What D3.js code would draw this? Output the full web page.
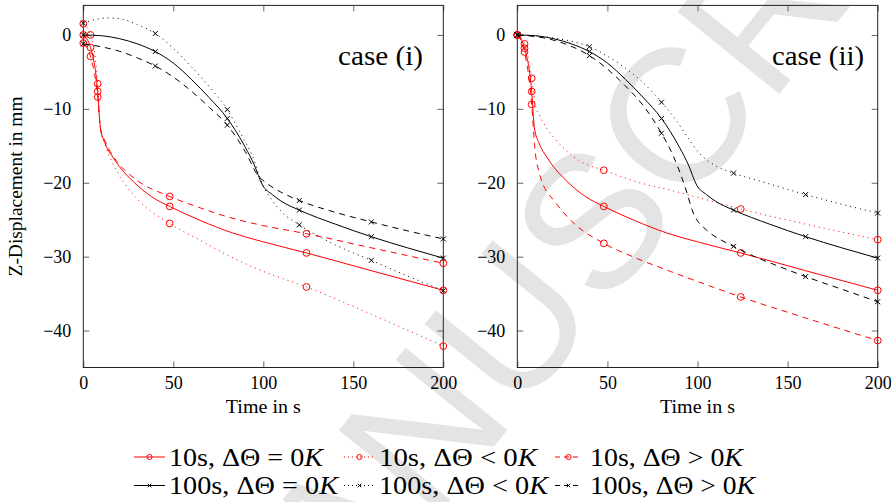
<!DOCTYPE html>
<html>
<head>
<meta charset="utf-8">
<script src="https://cdnjs.cloudflare.com/ajax/libs/d3/7.8.5/d3.min.js"></script>
<style>
  body { margin: 0; background: #fff; }
  svg { display: block; }
</style>
</head>
<body>
<div id="chart"></div>
<script>
// ---- data (time in s, z-displacement in mm) ----
var xTicks = [0, 50, 100, 150, 200];
var yTicks = [-40, -30, -20, -10, 0];
var markT10 = [0, 4, 8, 48, 124, 200];
var markT100 = [0, 40, 80, 120, 160, 200];

// case (i)
var c1_10_eq = [[0,0],[4,-1.7],[8,-7.65],[9.5,-12.6],[12,-14.6],[16.6,-16.6],[20,-17.8],[28,-19.9],[38,-21.9],[48,-23.2],[65,-25.1],[83,-26.8],[100,-28],[124,-29.5],[160,-31.9],[200,-34.55]];
var c1_10_lt = [[0,1.5],[4,0],[8,-6.6],[9.5,-12.6],[12,-14.8],[16,-17.2],[20,-19],[30,-22.2],[48,-25.5],[65,-27.8],[80,-29.8],[100,-32],[124,-34.1],[160,-37.8],[200,-42.1]];
var c1_10_gt = [[0,-1.1],[4,-2.9],[8,-8.4],[9.5,-12.6],[12,-14.3],[16,-16.2],[20,-17.5],[30,-19.7],[48,-21.85],[65,-23.4],[80,-24.6],[100,-25.8],[124,-26.9],[160,-28.8],[200,-30.9]];
var c1_100_eq = [[0,0],[10,-0.1],[20,-0.5],[30,-1.2],[40,-2.25],[50,-3.8],[60,-6],[70,-8.5],[80,-11.3],[90,-15.2],[95,-17.6],[99.5,-20.3],[105,-21.6],[110,-22.5],[120,-23.7],[140,-25.6],[160,-27.3],[180,-28.8],[200,-30.2]];
var c1_100_lt = [[0,1.6],[7,2.1],[13,2.3],[20,2.2],[30,1.4],[40,0.2],[50,-1.8],[60,-4.3],[70,-7],[80,-10.1],[88,-13.6],[94,-16.4],[99.7,-20.3],[105,-22.4],[110,-23.9],[120,-25.7],[140,-28.4],[160,-30.5],[180,-32.6],[200,-34.6]];
var c1_100_gt = [[0,-1.2],[10,-1.6],[20,-2.2],[30,-3.1],[40,-4.2],[50,-5.7],[60,-7.6],[70,-9.8],[80,-12.2],[90,-15.8],[97,-19],[101,-19.9],[110,-21.3],[120,-22.4],[140,-24],[160,-25.3],[180,-26.5],[200,-27.6]];

// case (ii)
var c2_10_eq = [[0,0],[4,-1.8],[8,-7.65],[9.5,-12.6],[12,-14.6],[16.6,-16.6],[20,-17.8],[28,-19.9],[38,-21.9],[48,-23.2],[65,-25.1],[83,-26.8],[100,-28],[124,-29.5],[160,-31.9],[200,-34.55]];
var c2_10_lt = [[0,0],[4,-1.2],[8,-5.85],[10,-9.5],[12.6,-11],[16,-12.5],[20,-13.8],[27,-15.6],[35,-17.1],[48,-18.3],[68,-20],[85,-21],[105,-22.3],[124,-23.55],[160,-25.6],[200,-27.7]];
var c2_10_gt = [[0,0],[4,-2.3],[8,-9.4],[9.8,-15.5],[12,-18.5],[14.4,-20.3],[20,-22.3],[31,-25.4],[48,-28.2],[65,-30.1],[85,-32],[105,-33.8],[124,-35.45],[160,-38.3],[200,-41.35]];
var c2_100_eq = c1_100_eq;
var c2_100_lt = [[0,0],[20,-0.4],[40,-1.6],[60,-4.5],[70,-6.5],[80,-9.1],[88,-11.5],[95,-14],[101,-16],[110,-17.7],[120,-18.7],[135,-19.8],[160,-21.6],[180,-22.9],[200,-24.1]];
var c2_100_gt = [[0,0],[20,-0.7],[40,-2.8],[60,-6.9],[70,-9.6],[80,-13.3],[86.6,-16.4],[93,-20.5],[97.7,-24.1],[105,-26.4],[112,-27.6],[120,-28.6],[129,-29.7],[145,-31.3],[160,-32.7],[180,-34.4],[200,-36.1]];

var legendRows = [
	["10s, ΔΘ = 0", "10s, ΔΘ < 0", "10s, ΔΘ > 0"],
	["100s, ΔΘ = 0", "100s, ΔΘ < 0", "100s, ΔΘ > 0"]
];

// ---- styles ----
var W = 891, H = 502;
var RED = '#ff0000', BLACK = '#000000';
var SERIF = '"Liberation Serif", "Noto Serif", "DejaVu Serif", "Times New Roman", serif';
var dashFor = { eq: null, lt: '1,4', gt: '6,5' };

var svg = d3.select('#chart').append('svg')
	.attr('width', W)
	.attr('height', H)
	.style('font-family', SERIF);

svg.append('rect').attr('width', W).attr('height', H).attr('fill', '#fff');

// watermark
svg.append('text')
	.attr('transform', 'translate(-433,1591) rotate(-51)')
	.style('font-family', '"Liberation Sans", Arial, sans-serif')
	.style('font-size', '190px')
	.style('fill', '#e4e4e4')
	.text('ACCEPTED MANUSCRIPT');

var y = d3.scaleLinear().domain([-45, 4]).range([367.5, 5.4]);

var panels = [
	{ x0: 83.3, x1: 443.3, label: 'case (i)', labelX: 380.5, labelW: 85,
	  series: [[c1_10_eq, 'eq', 10], [c1_10_lt, 'lt', 10], [c1_10_gt, 'gt', 10],
	           [c1_100_eq, 'eq', 100], [c1_100_lt, 'lt', 100], [c1_100_gt, 'gt', 100]] },
	{ x0: 517.3, x1: 877.7, label: 'case (ii)', labelX: 818, labelW: 92,
	  series: [[c2_10_eq, 'eq', 10], [c2_10_lt, 'lt', 10], [c2_10_gt, 'gt', 10],
	           [c2_100_eq, 'eq', 100], [c2_100_lt, 'lt', 100], [c2_100_gt, 'gt', 100]] }
];

function drawMark(g, kind, cx, cy, size) {
	if (kind === 10) {
		g.append('circle')
			.attr('cx', cx).attr('cy', cy).attr('r', size)
			.attr('fill', 'none').attr('stroke', RED).attr('stroke-width', 1);
	} else {
		g.append('path')
			.attr('d', 'M' + (cx - size) + ',' + (cy - size) + 'L' + (cx + size) + ',' + (cy + size) +
				'M' + (cx - size) + ',' + (cy + size) + 'L' + (cx + size) + ',' + (cy - size))
			.attr('stroke', BLACK).attr('stroke-width', 1).attr('fill', 'none');
	}
}

panels.forEach(function (p, pi) {
	var x = d3.scaleLinear().domain([0, 200]).range([p.x0, p.x1]);
	var g = svg.append('g');

	//axes with inward ticks
	var left = g.append('g').attr('transform', 'translate(' + p.x0 + ',0)')
		.call(d3.axisLeft(y).tickValues(yTicks).tickSize(-6).tickPadding(12)
			.tickFormat(function (d) { return d < 0 ? '\u2212' + Math.abs(d) : d; }));
	var bottom = g.append('g').attr('transform', 'translate(0,' + y(-45) + ')')
		.call(d3.axisBottom(x).tickValues(xTicks).tickSize(-6).tickPadding(9));
	var top = g.append('g').attr('transform', 'translate(0,' + y(4) + ')')
		.call(d3.axisTop(x).tickValues(xTicks).tickSize(-6).tickFormat(''));
	var right = g.append('g').attr('transform', 'translate(' + p.x1 + ',0)')
		.call(d3.axisRight(y).tickValues(yTicks).tickSize(-6).tickFormat(''));

	[left, bottom, top, right].forEach(function (a) {
		a.attr('font-family', null).attr('font-size', null);
		a.select('.domain').remove();
		a.selectAll('line').attr('stroke', '#666');
		a.selectAll('text').style('font-family', SERIF).style('font-size', '18px').attr('fill', '#000');
	});

	g.append('rect')
		.attr('x', p.x0).attr('y', y(4))
		.attr('width', p.x1 - p.x0).attr('height', y(-45) - y(4))
		.attr('fill', 'none').attr('stroke', '#222').attr('stroke-width', 1);

	var line = d3.line()
		.x(function (d) { return x(d[0]); })
		.y(function (d) { return y(d[1]); })
		.curve(d3.curveMonotoneX);

	p.series.forEach(function (s) {
		var col = s[2] === 10 ? RED : BLACK;
		g.append('path')
			.datum(s[0])
			.attr('d', line)
			.attr('fill', 'none')
			.attr('stroke', col)
			.attr('stroke-width', 1)
			.attr('stroke-dasharray', dashFor[s[1]]);
		var marks = s[2] === 10 ? markT10 : markT100;
		s[0].filter(function (d) { return marks.indexOf(d[0]) >= 0; })
			.forEach(function (d) {
				drawMark(g, s[2], x(d[0]), y(d[1]), s[2] === 10 ? 3.4 : 2.5);
			});
	});

	g.append('text')
		.attr('x', p.labelX).attr('y', 65)
		.attr('text-anchor', 'middle')
		.attr('textLength', p.labelW).attr('lengthAdjust', 'spacingAndGlyphs')
		.style('font-family', SERIF)
		.style('font-size', '27px')
		.text(p.label);

	g.append('text')
		.attr('x', (p.x0 + p.x1) / 2).attr('y', 413)
		.attr('text-anchor', 'middle')
		.attr('textLength', 75).attr('lengthAdjust', 'spacingAndGlyphs')
		.style('font-family', SERIF)
		.style('font-size', '18px')
		.text('Time in s');
});

// y label
svg.append('text')
	.attr('transform', 'translate(22,' + ((y(4) + y(-45)) / 2) + ') rotate(-90)')
	.attr('text-anchor', 'middle')
	.attr('textLength', 180).attr('lengthAdjust', 'spacingAndGlyphs')
	.style('font-family', SERIF)
	.style('font-size', '18px')
	.text('Z-Displacement in mm');

// legend
var legCols = [{ x0: 134, x1: 165, tx: 169 }, { x0: 344, x1: 375, tx: 379 }, { x0: 555, x1: 582, tx: 590 }];
var legRowY = [457, 485.5];
var legW = [[154, 158, 153], [169, 169, 165]];
var legKinds = ['eq', 'lt', 'gt'];
var leg = svg.append('g');
legendRows.forEach(function (row, ri) {
	row.forEach(function (label, ci) {
		var c = legCols[ci], cy = legRowY[ri];
		var col = ri === 0 ? RED : BLACK;
		leg.append('line')
			.attr('x1', c.x0).attr('x2', c.x1).attr('y1', cy).attr('y2', cy)
			.attr('stroke', col).attr('stroke-width', 1)
			.attr('stroke-dasharray', legKinds[ci] === 'lt' ? '1,3' : (legKinds[ci] === 'gt' ? '5,4' : null));
		drawMark(leg, ri === 0 ? 10 : 100, (c.x0 + c.x1) / 2, cy, ri === 0 ? 2.6 : 1.8);
		var t = leg.append('text')
			.attr('x', c.tx).attr('y', cy + 8.5)
			.attr('textLength', legW[ri][ci]).attr('lengthAdjust', 'spacingAndGlyphs')
			.style('font-family', SERIF)
			.style('font-size', '25px');
		t.append('tspan').text(label);
		t.append('tspan').style('font-style', 'italic').text('K');
	});
});
</script>
</body>
</html>
